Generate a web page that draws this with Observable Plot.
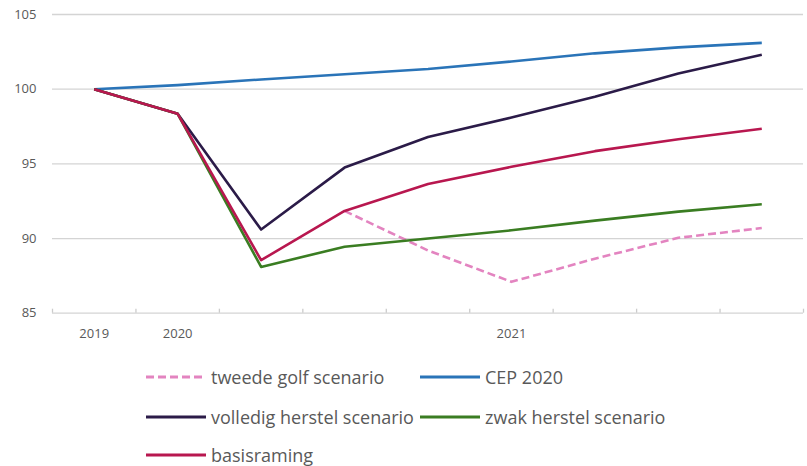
<!DOCTYPE html>
<html><head><meta charset="utf-8">
<script src="https://cdn.jsdelivr.net/npm/d3@7"></script>
<script src="https://cdn.jsdelivr.net/npm/@observablehq/plot@0.6"></script>
<style>
body{margin:0;background:#fff;font-family:"Open Sans",sans-serif;}
#chart{position:relative;width:807px;height:466px;overflow:hidden;}
.legend{position:relative;height:116px;}
.item{position:absolute;display:flex;align-items:center;height:20px;font-size:18px;color:#595959;white-space:nowrap;}
.item svg{margin-right:5px;display:block;}
</style></head><body><div id="chart"></div>
<script>
// categories (quarters); only some carry a label
const periods = ["2019", "2020", "", "", "", "2021", "", "", ""];
const yTicks = [85, 90, 95, 100, 105];

// series values
const tweedeGolf = [null, null, null, 91.85, 89.2, 87.1, 88.65, 90.05, 90.7];
const cep2020 = [100, 100.27, 100.65, 101.0, 101.35, 101.85, 102.4, 102.8, 103.1];
const volledigHerstel = [100, 98.35, 90.6, 94.75, 96.8, 98.1, 99.5, 101.05, 102.3];
const zwakHerstel = [100, 98.35, 88.1, 89.45, 90.0, 90.55, 91.2, 91.8, 92.3];
const basisraming = [100, 98.35, 88.55, 91.85, 93.65, 94.8, 95.85, 96.65, 97.35];

const seriesNames = ["tweede golf scenario", "CEP 2020", "volledig herstel scenario", "zwak herstel scenario", "basisraming"];
const seriesValues = [tweedeGolf, cep2020, volledigHerstel, zwakHerstel, basisraming];
const seriesColors = ["#e384c0", "#2a74b8", "#2b1b48", "#3a7d22", "#b8174f"];
const seriesDash = ["8,4", null, null, null, null];

const idx = periods.map((_, i) => i);
const boundaries = [...idx.map(i => i - 0.5), periods.length - 0.5];

const lineMarks = seriesValues.map((vals, s) => {
  const rows = vals.map((v, i) => ({i, v})).filter(d => d.v != null);
  return Plot.line(rows, {
    x: "i", y: "v", stroke: seriesColors[s], strokeWidth: 2.6,
    strokeDasharray: seriesDash[s] ?? undefined, strokeLinejoin: "round", strokeLinecap: "butt"
  });
});

const chart = Plot.plot({
  width: 807, height: 350,
  marginLeft: 52, marginRight: 4, marginTop: 14, marginBottom: 37.3,
  style: {fontFamily: "'Open Sans', sans-serif", fontSize: "13px", color: "#595959", background: "#fff"},
  x: {type: "linear", domain: [-0.5, periods.length - 0.5]},
  y: {domain: [85, 105]},
  marks: [
    Plot.gridY(yTicks, {stroke: "#d4d4d4", strokeOpacity: 1, strokeWidth: 1.3}),
    Plot.ruleX(boundaries, {x: d => d, y1: 85, y2: 85, insetTop: -4, stroke: "#cccccc", strokeWidth: 1.3}),
    Plot.axisY(yTicks, {tickSize: 0, tickPadding: 16, label: null, fill: "#595959"}),
    Plot.axisX(idx.filter(i => periods[i] !== ""), {tickSize: 0, tickPadding: 16, tickFormat: i => periods[i], label: null, fill: "#595959"}),
    ...lineMarks
  ]
});

const root = document.getElementById("chart");
root.appendChild(chart);

const legend = document.createElement("div");
legend.className = "legend";
const legendPos = [[146, 17], [420, 17], [146, 57], [420, 57], [146, 95]];
seriesNames.forEach((name, s) => {
  const it = document.createElement("div");
  it.className = "item";
  it.style.left = legendPos[s][0] + "px";
  it.style.top = legendPos[s][1] + "px";
  const dash = seriesDash[s] ? `stroke-dasharray="${seriesDash[s]}"` : "";
  it.innerHTML = `<svg width="60" height="6"><line x1="0" x2="60" y1="3" y2="3" stroke="${seriesColors[s]}" stroke-width="3" ${dash}/></svg><span>${name}</span>`;
  legend.appendChild(it);
});
root.appendChild(legend);
</script>
</body></html>
